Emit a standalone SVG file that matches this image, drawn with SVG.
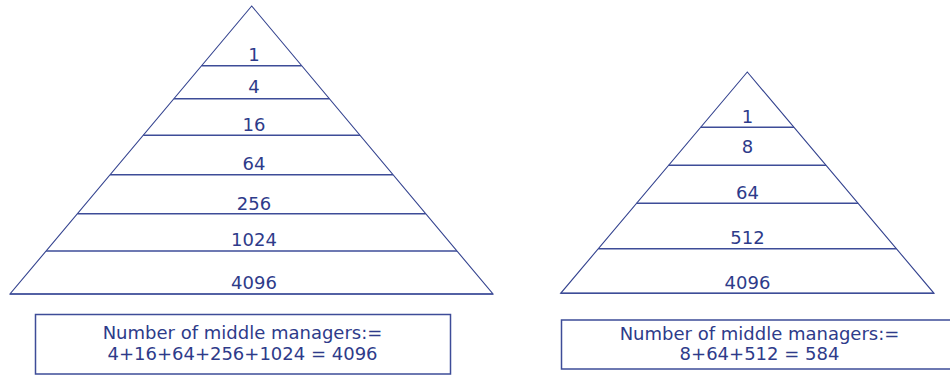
<svg xmlns="http://www.w3.org/2000/svg" width="950" height="376" viewBox="0 0 950 376">
<style>
.tri{fill:none;stroke:#34438f;stroke-width:1.1;stroke-linejoin:miter}
.lvl{stroke:#3d4c98;stroke-width:1.5}
.box{fill:#fff;stroke:#3d4c98;stroke-width:1.5}
text{font-family:"DejaVu Sans",Verdana,sans-serif;font-size:18px;fill:#2e3b8a;text-anchor:middle}
</style>
<rect width="950" height="376" fill="#fff"/>
<g id="pyramid-left">
<polygon class="tri" points="251.7,6 10,294 493,294"/>
<line class="lvl" x1="201.6" y1="65.7" x2="301.7" y2="65.7"/>
<line class="lvl" x1="173.9" y1="98.7" x2="329.4" y2="98.7"/>
<line class="lvl" x1="143.2" y1="135.3" x2="360" y2="135.3"/>
<line class="lvl" x1="110.1" y1="174.7" x2="393" y2="174.7"/>
<line class="lvl" x1="77.4" y1="213.7" x2="425.7" y2="213.7"/>
<line class="lvl" x1="46.1" y1="251" x2="457" y2="251"/>
<line class="lvl" x1="10" y1="294" x2="493" y2="294"/>
<text x="254" y="60.7">1</text>
<text x="254" y="93.3">4</text>
<text x="254" y="130.7">16</text>
<text x="254" y="170">64</text>
<text x="254" y="210">256</text>
<text x="254" y="246">1024</text>
<text x="254" y="288.7">4096</text>
</g>
<g id="pyramid-right">
<polygon class="tri" points="747.3,72 560.7,293.3 934,293.3"/>
<line class="lvl" x1="700.7" y1="127.3" x2="794" y2="127.3"/>
<line class="lvl" x1="668.6" y1="165.3" x2="826" y2="165.3"/>
<line class="lvl" x1="636.6" y1="203.3" x2="858.1" y2="203.3"/>
<line class="lvl" x1="598.3" y1="248.7" x2="896.4" y2="248.7"/>
<line class="lvl" x1="560.7" y1="293.3" x2="934" y2="293.3"/>
<text x="747.5" y="122.7">1</text>
<text x="747.5" y="153.3">8</text>
<text x="747.5" y="198.7">64</text>
<text x="747.5" y="244">512</text>
<text x="747.5" y="289.3">4096</text>
</g>
<g id="box-left">
<rect class="box" x="35.5" y="314.5" width="415" height="59.5"/>
<text x="242.5" y="339">Number of middle managers:=</text>
<text x="242.5" y="360">4+16+64+256+1024 = 4096</text>
</g>
<g id="box-right">
<rect class="box" x="561.5" y="320" width="400" height="49"/>
<text x="759.5" y="340">Number of middle managers:=</text>
<text x="759.5" y="360">8+64+512 = 584</text>
</g>
<g id="connectors"/>
</svg>
